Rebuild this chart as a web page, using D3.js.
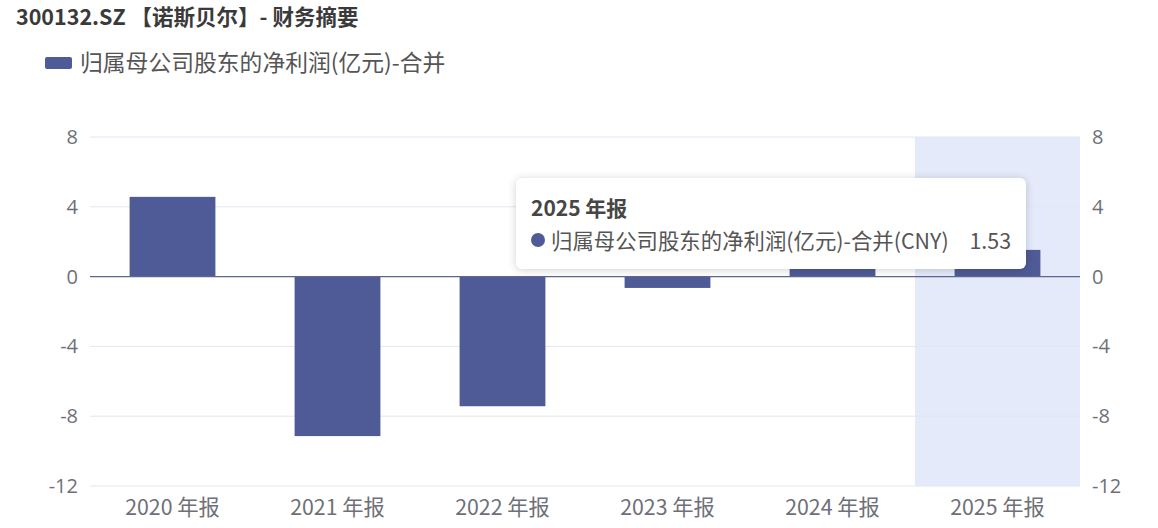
<!DOCTYPE html>
<html>
<head>
<meta charset="utf-8">
<script src="https://cdn.jsdelivr.net/npm/d3@7"></script>
<style>
  body { margin: 0; background: #fff; font-family: "Noto Sans CJK SC", "Noto Sans", sans-serif; }
  #chart { position: relative; width: 1158px; height: 528px; }
  .tip {
    position: absolute; background: #fff; border-radius: 6px;
    box-shadow: 0 1px 8px rgba(0,0,0,0.18); padding: 0; box-sizing: border-box;
  }
</style>
</head>
<body>
<div id="chart"></div>
<script>
// data
var years = ["2020 年报", "2021 年报", "2022 年报", "2023 年报", "2024 年报", "2025 年报"];
var profit = [4.57, -9.14, -7.43, -0.65, 0.95, 1.53];
var yTicks = [-12, -8, -4, 0, 4, 8];
var seriesName = "归属母公司股东的净利润(亿元)-合并";
var title = "300132.SZ 【诺斯贝尔】- 财务摘要";
var hoverIdx = 5;

var W = 1158, H = 528;
var margin = {top: 137, right: 78, bottom: 42, left: 90};
var width = W - margin.left - margin.right,
    height = H - margin.top - margin.bottom;

var chartDiv = document.getElementById("chart");
var svg = d3.select(chartDiv).append("svg")
    .attr("width", W).attr("height", H);

// title + legend
svg.append("text")
    .attr("x", 16).attr("y", 25)
    .style("font-size", "21.5px").style("font-weight", "bold")
    .style("fill", "#3a3a3a")
    .text(title);

svg.append("rect")
    .attr("x", 45).attr("y", 57).attr("width", 27).attr("height", 12)
    .attr("rx", 2)
    .style("fill", "#4f5b97");
svg.append("text")
    .attr("x", 80).attr("y", 71)
    .style("font-size", "22.8px").style("fill", "#555")
    .text(seriesName);

var g = svg.append("g")
    .attr("transform", "translate(" + margin.left + "," + margin.top + ")");

var x = d3.scaleBand().domain(years).range([0, width]).paddingInner(0).paddingOuter(0);
var y = d3.scaleLinear().domain([-12, 8]).range([height, 0]);

// hover band
g.append("rect")
    .attr("x", x(years[hoverIdx]))
    .attr("y", 0)
    .attr("width", x.bandwidth())
    .attr("height", height)
    .style("fill", "#e4eafa");

// grid lines
g.selectAll(".grid")
    .data(yTicks.filter(function(d){ return d !== 0; }))
  .enter().append("line")
    .attr("x1", 0).attr("x2", width)
    .attr("y1", function(d){ return y(d); })
    .attr("y2", function(d){ return y(d); })
    .style("stroke", "#e0e6f1").style("stroke-width", 1);

// left / right axes (plain hyphen minus like the original)
var fmt = function(d){ return String(d); };
var yAxisL = d3.axisLeft(y).tickValues(yTicks).tickFormat(fmt).tickSize(0).tickPadding(12);
var yAxisR = d3.axisRight(y).tickValues(yTicks).tickFormat(fmt).tickSize(0).tickPadding(12);

g.append("g").call(yAxisL)
  .call(function(s){ s.select(".domain").remove(); })
  .selectAll("text")
    .style("font-size", "20px").style("fill", "#6e7079")
    .style("font-family", "'Open Sans', sans-serif");

g.append("g").attr("transform", "translate(" + width + ",0)").call(yAxisR)
  .call(function(s){ s.select(".domain").remove(); })
  .selectAll("text")
    .style("font-size", "20px").style("fill", "#6e7079")
    .style("font-family", "'Open Sans', sans-serif");

// bars
var barW = x.bandwidth() * 0.52;
g.selectAll(".bar")
    .data(profit)
  .enter().append("rect")
    .attr("class", "bar")
    .attr("x", function(d, i){ return x(years[i]) + (x.bandwidth() - barW) / 2; })
    .attr("width", barW)
    .attr("y", function(d){ return y(Math.max(0, d)); })
    .attr("height", function(d){ return Math.abs(y(d) - y(0)); })
    .style("fill", "#4f5b97");

// zero line
g.append("line")
    .attr("x1", 0).attr("x2", width)
    .attr("y1", y(0)).attr("y2", y(0))
    .style("stroke", "#5c6790").style("stroke-width", 1.2);

// x labels
var xAxis = d3.axisBottom(x).tickSize(0).tickPadding(14);
g.append("g").attr("transform", "translate(0," + height + ")").call(xAxis)
  .call(function(s){ s.select(".domain").remove(); })
  .selectAll("text")
    .style("font-size", "21.3px").style("fill", "#6e7079")
    .style("font-family", "'Noto Sans CJK SC', sans-serif");

// tooltip
var tip = d3.select(chartDiv).append("div")
    .attr("class", "tip")
    .style("left", "516px").style("top", "178px")
    .style("width", "510px").style("height", "91px");

tip.append("div")
    .style("position", "absolute").style("left", "15px").style("top", "14px")
    .style("font-size", "21px").style("font-weight", "bold").style("color", "#464646")
    .text(years[hoverIdx]);

var row = tip.append("div")
    .style("position", "absolute").style("left", "15px").style("top", "46px")
    .style("width", "480px")
    .style("font-size", "21.4px").style("color", "#555")
    .style("display", "flex").style("align-items", "center");

row.append("span")
    .style("display", "inline-block").style("width", "14px").style("height", "14px")
    .style("border-radius", "50%").style("background", "#4f5b97")
    .style("margin-right", "6px");
row.append("span").text(seriesName + "(CNY)");
row.append("span")
    .style("margin-left", "auto").style("color", "#555")
    .text(profit[hoverIdx].toFixed(2));
</script>
</body>
</html>
